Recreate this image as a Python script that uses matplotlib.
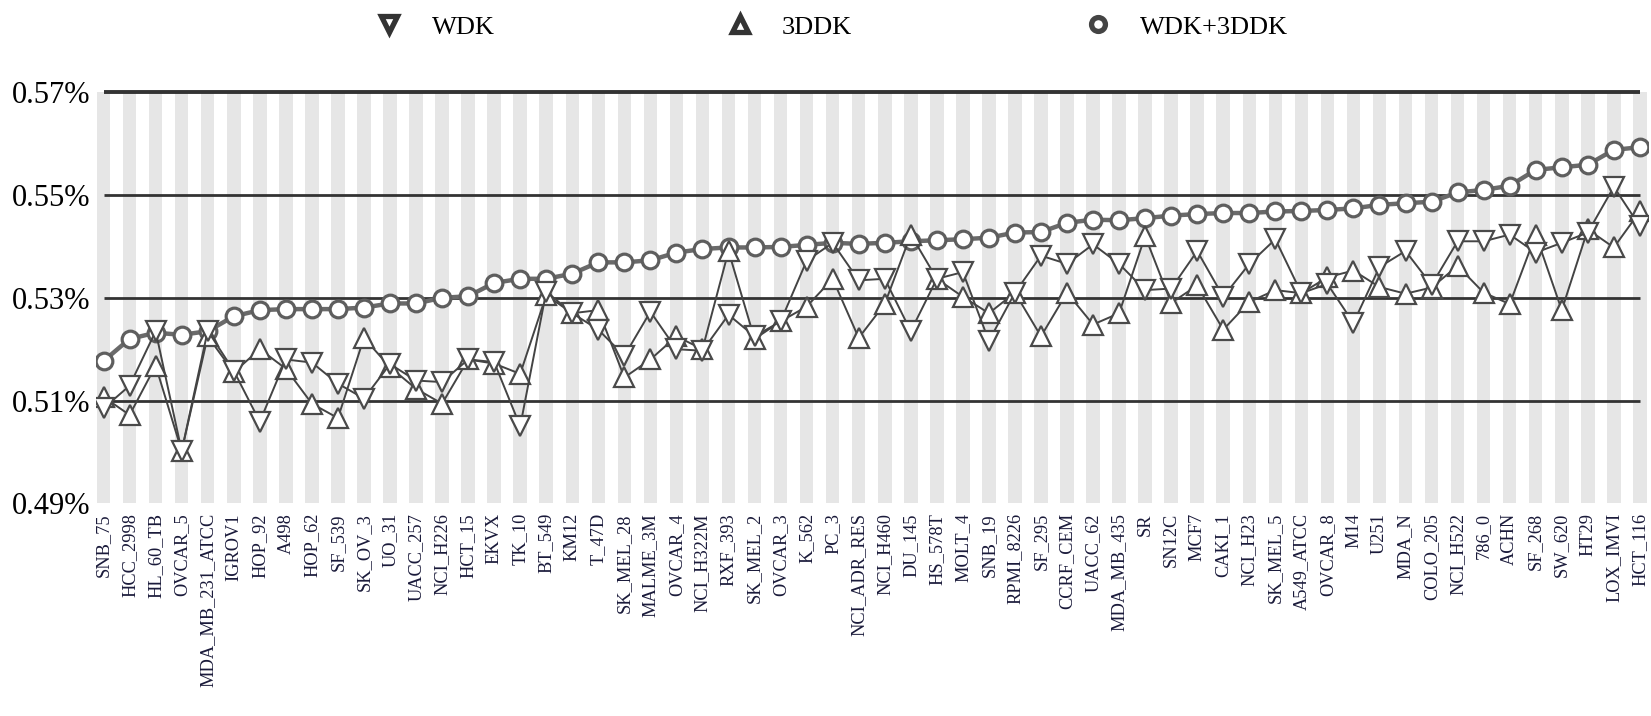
import numpy as np
import matplotlib.pyplot as plt
from matplotlib.lines import Line2D

plt.rcParams['font.family'] = ['Liberation Serif', 'DejaVu Serif']

cell_lines = ['SNB_75', 'HCC_2998', 'HL_60_TB', 'OVCAR_5', 'MDA_MB_231_ATCC', 'IGROV1',
              'HOP_92', 'A498', 'HOP_62', 'SF_539', 'SK_OV_3', 'UO_31', 'UACC_257',
              'NCI_H226', 'HCT_15', 'EKVX', 'TK_10', 'BT_549', 'KM12', 'T_47D',
              'SK_MEL_28', 'MALME_3M', 'OVCAR_4', 'NCI_H322M', 'RXF_393', 'SK_MEL_2',
              'OVCAR_3', 'K_562', 'PC_3', 'NCI_ADR_RES', 'NCI_H460', 'DU_145', 'HS_578T',
              'MOLT_4', 'SNB_19', 'RPMI_8226', 'SF_295', 'CCRF_CEM', 'UACC_62',
              'MDA_MB_435', 'SR', 'SN12C', 'MCF7', 'CAKI_1', 'NCI_H23', 'SK_MEL_5',
              'A549_ATCC', 'OVCAR_8', 'M14', 'U251', 'MDA_N', 'COLO_205', 'NCI_H522',
              '786_0', 'ACHN', 'SF_268', 'SW_620', 'HT29', 'LOX_IMVI', 'HCT_116']

# values in percent
wdk = [0.5085, 0.5129, 0.5235, 0.5002, 0.5236, 0.5158, 0.5059, 0.5180, 0.5174, 0.5133,
       0.5104, 0.5171, 0.5139, 0.5136, 0.5180, 0.5175, 0.5050, 0.5312, 0.5270, 0.5238,
       0.5187, 0.5273, 0.5200, 0.5197, 0.5267, 0.5225, 0.5254, 0.5372, 0.5407, 0.5334,
       0.5337, 0.5235, 0.5337, 0.5350, 0.5216, 0.5310, 0.5382, 0.5366, 0.5404, 0.5366,
       0.5315, 0.5318, 0.5391, 0.5302, 0.5366, 0.5414, 0.5309, 0.5327, 0.5251, 0.5360,
       0.5391, 0.5325, 0.5410, 0.5410, 0.5423, 0.5388, 0.5407, 0.5427, 0.5516, 0.5439]

ddk3 = [0.5107, 0.5072, 0.5168, 0.5002, 0.5225, 0.5155, 0.5200, 0.5162, 0.5094, 0.5066,
        0.5222, 0.5165, 0.5123, 0.5094, 0.5180, 0.5172, 0.5152, 0.5305, 0.5270, 0.5276,
        0.5145, 0.5180, 0.5225, 0.5200, 0.5391, 0.5220, 0.5254, 0.5283, 0.5337, 0.5222,
        0.5288, 0.5423, 0.5337, 0.5302, 0.5270, 0.5310, 0.5225, 0.5310, 0.5248, 0.5270,
        0.5420, 0.5290, 0.5324, 0.5238, 0.5292, 0.5315, 0.5309, 0.5340, 0.5353, 0.5321,
        0.5308, 0.5320, 0.5362, 0.5310, 0.5288, 0.5423, 0.5276, 0.5433, 0.5398, 0.5468]

combined = [0.5177, 0.5220, 0.5232, 0.5228, 0.5235, 0.5264, 0.5276, 0.5278, 0.5278, 0.5278,
            0.5281, 0.5289, 0.5289, 0.5300, 0.5303, 0.5329, 0.5337, 0.5337, 0.5347, 0.5369,
            0.5369, 0.5373, 0.5388, 0.5395, 0.5398, 0.5398, 0.5399, 0.5403, 0.5407, 0.5405,
            0.5407, 0.5410, 0.5412, 0.5414, 0.5417, 0.5427, 0.5428, 0.5446, 0.5452, 0.5451,
            0.5455, 0.5460, 0.5463, 0.5465, 0.5465, 0.5468, 0.5469, 0.5471, 0.5474, 0.5481,
            0.5484, 0.5487, 0.5505, 0.5510, 0.5518, 0.5549, 0.5554, 0.5559, 0.5588, 0.5593]

yticks = [0.49, 0.51, 0.53, 0.55, 0.57]

x = np.arange(len(cell_lines))

fig = plt.figure(figsize=(16.51, 7.16), dpi=100)
ax = fig.add_axes([0.058, 0.297, 0.940, 0.577])

# light grey column behind every cell line
ax.bar(x, [yticks[-1] - yticks[0]] * len(x), bottom=yticks[0], width=0.52,
       color='#e6e6e6', zorder=0)

# horizontal reference lines, spanning first to last category
for v in yticks[1:]:
    ax.hlines(v, x[0], x[-1], colors='#333333', lw=2.8 if v == yticks[-1] else 2.0, zorder=1)

ax.plot(x, combined, color='#6a6a6a', lw=3.2, marker='o', ms=12,
        mfc='white', mec='#5e5e5e', mew=2.3, zorder=3)
ax.plot(x, ddk3, color='#444444', lw=1.4, marker='^', ms=14,
        mfc='white', mec='#4a4a4a', mew=1.6, zorder=4)
ax.plot(x, wdk, color='#444444', lw=1.4, marker='v', ms=14,
        mfc='white', mec='#4a4a4a', mew=1.6, zorder=5)

ax.set_xlim(-0.3, len(x) - 1 + 0.3)
ax.set_ylim(yticks[0], yticks[-1] + 0.0004)
ax.set_yticks(yticks)
ax.set_yticklabels(['%.2f%%' % v for v in yticks], fontsize=22)
ax.set_xticks(x)
ax.set_xticklabels(cell_lines, rotation=90, fontsize=13.2, color='#1a1a3a')
ax.tick_params(length=0, pad=7)
ax.tick_params(axis='y', pad=4)
for s in ax.spines.values():
    s.set_visible(False)

handles = [
    Line2D([], [], ls='none', marker='v', ms=12, mfc='white', mec='#333333', mew=3.8),
    Line2D([], [], ls='none', marker='^', ms=12, mfc='white', mec='#333333', mew=3.8),
    Line2D([], [], ls='none', marker='o', ms=10, mfc='white', mec='#444444', mew=3.8),
]
fig.legend(handles, ['WDK', '3DDK', 'WDK+3DDK'], loc='upper center',
           bbox_to_anchor=(0.5, 1.012), ncol=3, frameon=False, fontsize=19,
           columnspacing=8.3, handletextpad=0.6)

fig.savefig('out.png', dpi=100)
